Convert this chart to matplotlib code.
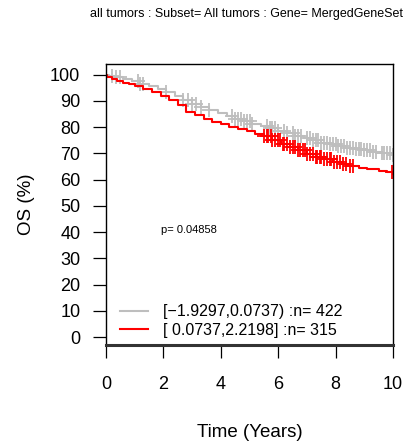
import numpy as np
import matplotlib
matplotlib.use("Agg")
import matplotlib.pyplot as plt

plt.rcParams['font.family'] = ['Liberation Sans', 'DejaVu Sans']

# Kaplan-Meier steps (time in years, survival in %)
low_t = [0, 0.1, 0.3, 0.6, 0.9, 1.2, 1.5, 1.8, 2.1, 2.4, 2.7, 3.0, 3.3, 3.6, 3.9,
         4.2, 4.5, 4.8, 5.1, 5.4, 5.7, 6.0, 6.3, 6.6, 6.9, 7.2, 7.5, 7.8, 8.1,
         8.4, 8.7, 9.0, 9.3, 9.6, 10.0]
low_s = [100, 99.4, 98.9, 98.3, 97.6, 96.5, 95.5, 94.4, 93.3, 91.9, 90.3, 88.9,
         87.6, 86.5, 85.4, 84.2, 83.2, 82.2, 81.1, 80.4, 79.6, 78.5, 77.6, 76.7,
         75.9, 75.0, 74.1, 73.4, 72.6, 72.0, 71.5, 71.1, 70.6, 70.0, 69.5]
low_cens = [0.2, 0.35, 0.5, 1.1, 1.2, 1.3, 2.1, 2.7, 2.85, 3.0, 3.15, 3.3, 3.6,
            4.4, 4.5, 4.6, 4.7, 4.8, 4.9, 5.0, 5.1, 5.6, 5.7, 5.8, 5.9, 6.0, 6.2,
            6.3, 6.5, 6.6, 6.7, 6.8, 7.0, 7.1, 7.2, 7.3, 7.4, 7.5, 7.6, 7.7, 7.8,
            7.9, 8.0, 8.1, 8.2, 8.3, 8.4, 8.5, 8.6, 8.7, 8.8, 8.9, 9.0, 9.1, 9.2,
            9.3, 9.4, 9.6, 9.7, 9.8, 9.9, 10.0]

high_t = [0, 0.05, 0.2, 0.4, 0.6, 0.8, 1.0, 1.3, 1.6, 1.9, 2.2, 2.5, 2.8, 3.1,
          3.4, 3.7, 4.0, 4.3, 4.6, 4.9, 5.2, 5.5, 5.8, 6.1, 6.4, 6.7, 7.0, 7.3,
          7.6, 7.9, 8.2, 8.5, 8.8, 9.1, 9.5, 9.8, 10.0]
high_s = [100, 98.9, 98.3, 97.6, 96.9, 96.3, 95.6, 94.4, 93.3, 91.9, 90.3, 88.2,
          85.9, 84.4, 83.0, 81.9, 81.0, 80.2, 79.3, 78.3, 77.4, 76.5, 75.2, 73.6,
          72.5, 71.1, 69.7, 68.6, 67.7, 66.7, 65.8, 65.0, 64.5, 64.0, 63.4, 62.9,
          62.3]
high_cens = [5.5, 5.6, 5.65, 5.75, 5.8, 5.9, 6.0, 6.05, 6.15, 6.2, 6.3, 6.4, 6.5,
             6.6, 6.7, 6.75, 6.85, 6.95, 7.0, 7.1, 7.2, 7.3, 7.35, 7.45, 7.5, 7.6,
             7.7, 7.8, 7.85, 7.95, 8.05, 8.15, 8.25, 8.35, 8.5, 8.6, 9.95]

labels = ['[\u22121.9297,0.0737) :n= 422', '[ 0.0737,2.2198] :n= 315']
colors = ['#bebebe', '#ff0000']
pval = 'p= 0.04858'
title = 'all tumors : Subset= All tumors : Gene= MergedGeneSet'


def surv_at(t, s, x):
    idx = np.searchsorted(t, x, side='right') - 1
    return np.array(s)[idx]


fig = plt.figure(figsize=(4.08, 4.43), dpi=100)
ax = fig.add_axes([106 / 408, 1 - 345 / 443, 287 / 408, 281 / 443])

groups = [(low_t, low_s, low_cens), (high_t, high_s, high_cens)]
for (t, s, c), col, lab in zip(groups, colors, labels):
    ax.step(t, s, where='post', color=col, lw=1.5, label=lab)
    ax.plot(c, surv_at(t, s, c), ls='none', marker='+', ms=10, mew=1.3, color=col)

ax.set_xlim(0, 10)
ax.set_ylim(-3, 104)
ax.set_xticks(range(0, 11, 2))
ax.set_yticks(range(0, 101, 10))
ax.tick_params(axis='both', direction='out', length=9.5, width=0.9,
               labelsize=13, pad=9, colors='black')
ax.tick_params(axis='x', pad=13)
for side in ['left', 'top', 'right']:
    ax.spines[side].set_linewidth(1.0)
ax.spines['bottom'].set_linewidth(2.2)
ax.spines['bottom'].set_color('#333333')

ax.set_xlabel('Time (Years)', fontsize=13.5, labelpad=22)
ax.set_ylabel('OS (%)', fontsize=13.5, labelpad=11)

ax.text(1.9, 40.7, pval, fontsize=8, va='center', ha='left')

ax.legend(loc='lower left', bbox_to_anchor=(0.0, -0.025), frameon=False,
          fontsize=11.5, handlelength=1.75, labelspacing=0.22, handletextpad=0.9)

fig.text(247 / 408, 1 - 14 / 443, title, fontsize=9, ha='center', va='center')

fig.savefig('out.png', dpi=100)
